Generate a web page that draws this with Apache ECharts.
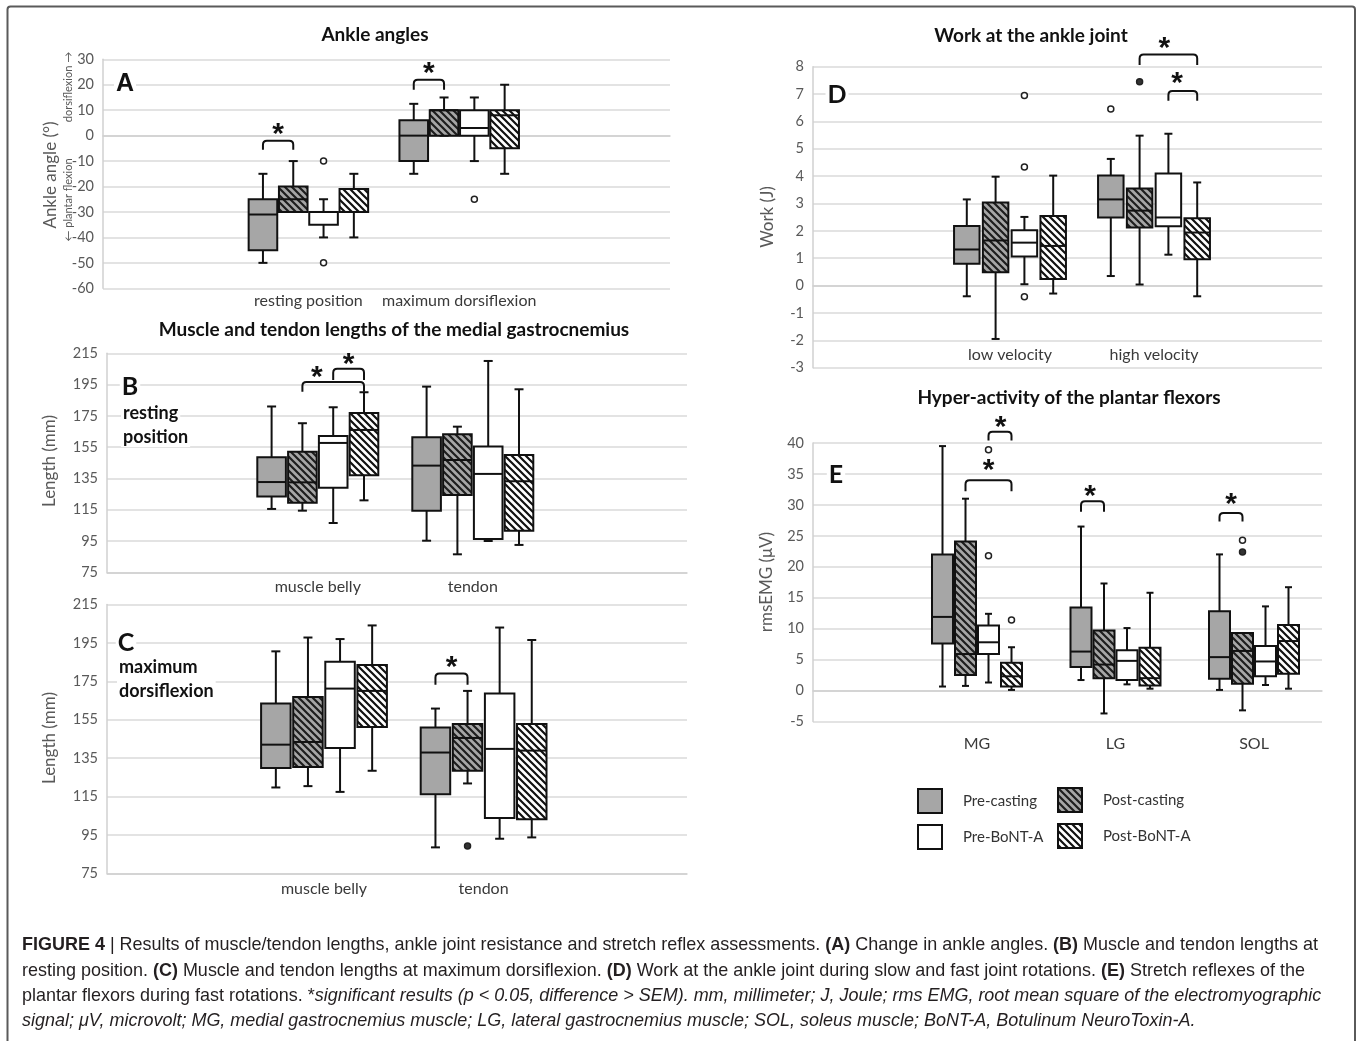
<!DOCTYPE html>
<html><head><meta charset="utf-8">
<script src="https://cdn.jsdelivr.net/npm/echarts@6/dist/echarts.min.js"></script>
<style>html,body{margin:0;padding:0;background:#fff}#c{width:1357px;height:1041px}</style>
</head><body><div id="c"></div>
<script>
// ===================== DATA =====================
const groups = ['Pre-casting', 'Post-casting', 'Pre-BoNT-A', 'Post-BoNT-A'];

// Boxes: one entry per category, [min, Q1, median, Q3, max]
// Panel A – Ankle angles (°)
const catsA = ['resting position', 'maximum dorsiflexion'];
const A_preCasting  = [[-50, -45, -31, -25, -15], [-15, -10, 0, 6, 12.5]];
const A_postCasting = [[-30, -30, -25, -20, -10], [0, 0, 10, 10, 15]];
const A_preBoNT     = [[-40, -35, -30, -30, -25], [-10, 0, 3, 10, 15]];
const A_postBoNT    = [[-40, -30, -30, -21, -15], [-15, -5, 8, 10, 20]];
// outliers: [category, group, value]
const A_outliersOpen   = [[0, 2, -10], [0, 2, -50], [1, 2, -25]];
const A_outliersFilled = [];
// significance: [category, fromGroup, toGroup, bracketTop, bracketFoot, starGroupPos, starValue]
const A_sig = [[0, 0, 1, -2, -5.5, 0.5, 3], [1, 0, 1, 22, 18, 0.5, 27]];

// Panel B – lengths at resting position (mm)
const catsB = ['muscle belly', 'tendon'];
const B_preCasting  = [[115.5, 123.4, 132.7, 148.5, 181], [95.2, 114.4, 143.2, 161.3, 193.7]];
const B_postCasting = [[114.4, 119.5, 132.5, 152.1, 170.3], [86.5, 124.4, 146.8, 163.2, 168.1]];
const B_preBoNT     = [[106.5, 129.1, 157.7, 162.2, 180.5], [95, 96.3, 137.9, 155.5, 210.1]];
const B_postBoNT    = [[121, 137, 166, 176.9, 190.1], [92.5, 101.6, 133.2, 150, 192]];
const B_outliersOpen   = [];
const B_outliersFilled = [];
const B_sig = [[0, 1, 3, 196.7, 190.5, 1.47, 204], [0, 2, 3, 205.2, 198, 2.5, 212]];

// Panel C – lengths at maximum dorsiflexion (mm)
const catsC = ['muscle belly', 'tendon'];
const C_preCasting  = [[119.7, 129.9, 142, 163.4, 190.6], [88.5, 116.2, 137.9, 150.9, 160.8]];
const C_postCasting = [[120.4, 130.4, 143.4, 166.8, 197.8], [121.8, 128.4, 145.5, 152.8, 170]];
const C_preBoNT     = [[117.4, 140.3, 171.2, 185.2, 197], [93, 103.8, 139.8, 168.7, 203]];
const C_postBoNT    = [[128.4, 151.2, 170, 183.5, 204.1], [93.7, 103.1, 138.9, 152.8, 196.5]];
const C_outliersOpen   = [];
const C_outliersFilled = [[1, 1, 89.2]];
const C_sig = [[1, 0, 1, 179, 173.2, 0.5, 185.5]];

// Panel D – Work at the ankle joint (J)
const catsD = ['low velocity', 'high velocity'];
const D_preCasting  = [[-0.39, 0.8, 1.32, 2.18, 3.15], [0.35, 2.49, 3.15, 4.02, 4.63]];
const D_postCasting = [[-1.95, 0.49, 1.65, 3.04, 3.98], [0.04, 2.12, 2.74, 3.55, 5.48]];
const D_preBoNT     = [[0.05, 1.06, 1.57, 2.02, 2.51], [1.13, 2.17, 2.49, 4.1, 5.55]];
const D_postBoNT    = [[-0.29, 0.24, 1.45, 2.54, 4.02], [-0.39, 0.96, 1.94, 2.46, 3.77]];
const D_outliersOpen   = [[0, 2, 6.95], [0, 2, 4.33], [0, 2, -0.41], [1, 0, 6.45]];
const D_outliersFilled = [[1, 1, 7.45]];
const D_sig = [[1, 1, 3, 8.45, 8.06, 1.86, 8.9], [1, 2, 3, 7.11, 6.76, 2.3, 7.65]];

// Panel E – rmsEMG (µV)
const catsE = ['MG', 'LG', 'SOL'];
const E_preCasting  = [[0.65, 7.6, 11.9, 22, 39.5], [1.7, 3.8, 6.3, 13.4, 26.5], [0.1, 1.9, 5.4, 12.8, 22]];
const E_postCasting = [[0.75, 2.5, 5.9, 24.1, 31], [-3.7, 2, 4.2, 9.7, 17.3], [-3.2, 1.1, 6.4, 9.3, 9.3]];
const E_preBoNT     = [[1.3, 5.9, 7.8, 10.5, 12.4], [1, 1.7, 4.8, 6.5, 10.1], [0.9, 2.3, 4.7, 7.2, 13.6]];
const E_postBoNT    = [[0.1, 0.65, 2.3, 4.5, 7], [0.3, 0.8, 2, 6.9, 15.8], [0.3, 2.7, 8, 10.6, 16.7]];
const E_outliersOpen   = [[0, 2, 21.8], [0, 2, 38.9], [0, 3, 11.4], [2, 1, 24.3]];
const E_outliersFilled = [[2, 1, 22.4]];
const E_sig = [[0, 2, 3, 41.8, 40.4, 2.53, 43.6], [0, 1, 3, 34, 32.2, 2, 36.6], [1, 0, 1, 30.6, 28.9, 0.4, 32.4], [2, 0, 1, 28.7, 27.3, 0.5, 31.2]];

// ===================== STYLE / LAYOUT =====================
const FONT = 'Lato, "Open Sans", sans-serif';
function hatch(bg, fg) {
  const n = 7, c = document.createElement('canvas');
  c.width = n; c.height = n;
  const g = c.getContext('2d');
  g.fillStyle = bg; g.fillRect(0, 0, n, n);
  g.strokeStyle = fg; g.lineWidth = 2.2; g.lineCap = 'square';
  g.beginPath();
  g.moveTo(-2, -2); g.lineTo(n + 2, n + 2);
  g.moveTo(-2, n - 2); g.lineTo(2, n + 2);
  g.moveTo(n - 2, -2); g.lineTo(n + 2, 2);
  g.stroke();
  return { image: c, repeat: 'repeat' };
}
const fills = ['#a6a6a6', hatch('#a6a6a6', '#1e1e1e'), '#ffffff', hatch('#ffffff', '#111111')];

const panels = [
  { cats: catsA, boxes: [A_preCasting, A_postCasting, A_preBoNT, A_postBoNT], open: A_outliersOpen, filled: A_outliersFilled, sig: A_sig,
    yMin: -60, yMax: 30, yInt: 10, frame: { left: 103, top: 59.3, width: 567, height: 229 }, data: { left: 233, width: 301.6 },
    step: 30.3, box: 28.6, cap: 9, labelMargin: 13 },
  { cats: catsB, boxes: [B_preCasting, B_postCasting, B_preBoNT, B_postBoNT], open: B_outliersOpen, filled: B_outliersFilled, sig: B_sig,
    yMin: 75, yMax: 215, yInt: 20, frame: { left: 107, top: 353.3, width: 580, height: 219 }, data: { left: 240.3, width: 310 },
    step: 30.8, box: 28.6, cap: 9, labelMargin: 15 },
  { cats: catsC, boxes: [C_preCasting, C_postCasting, C_preBoNT, C_postBoNT], open: C_outliersOpen, filled: C_outliersFilled, sig: C_sig,
    yMin: 75, yMax: 215, yInt: 20, frame: { left: 107, top: 604.5, width: 580, height: 268.8 }, data: { left: 244.2, width: 319.2 },
    step: 32.1, box: 29.5, cap: 9, labelMargin: 16 },
  { cats: catsD, boxes: [D_preCasting, D_postCasting, D_preBoNT, D_postBoNT], open: D_outliersOpen, filled: D_outliersFilled, sig: D_sig,
    yMin: -3, yMax: 8, yInt: 1, frame: { left: 813, top: 66.7, width: 509, height: 301 }, data: { left: 938, width: 288 },
    step: 28.8, box: 25.5, cap: 8, labelMargin: -13 },
  { cats: catsE, boxes: [E_preCasting, E_postCasting, E_preBoNT, E_postBoNT], open: E_outliersOpen, filled: E_outliersFilled, sig: E_sig,
    yMin: -5, yMax: 40, yInt: 5, frame: { left: 813, top: 443, width: 509, height: 278.5 }, data: { left: 907.75, width: 415.5 },
    step: 23, box: 21, cap: 7, labelMargin: 22 }
];

const grid = [], xAxis = [], yAxis = [], series = [];
const LINE = '#111';
panels.forEach((p, pi) => {
  const fi = 2 * pi, di = 2 * pi + 1;
  grid.push({ left: p.frame.left, top: p.frame.top, width: p.frame.width, height: p.frame.height, outerBoundsMode: 'none' });
  grid.push({ left: p.data.left, top: p.frame.top, width: p.data.width, height: p.frame.height, outerBoundsMode: 'none' });
  xAxis.push({ gridIndex: fi, type: 'value', min: 0, max: 1, axisLabel: { show: false }, axisTick: { show: false }, splitLine: { show: false },
    axisLine: { show: true, lineStyle: { color: '#d0d0d0', width: 1.5 } } });
  xAxis.push({ gridIndex: di, type: 'category', data: p.cats, boundaryGap: true, axisLine: { show: false }, axisTick: { show: false },
    splitLine: { show: false }, axisLabel: { color: '#3a3a3a', fontSize: 16, fontFamily: FONT, margin: p.labelMargin, verticalAlign: 'middle', interval: 0 } });
  yAxis.push({ gridIndex: fi, type: 'value', min: p.yMin, max: p.yMax, interval: p.yInt,
    axisLabel: { color: '#595959', fontSize: 14.5, fontFamily: FONT, margin: 9 }, axisTick: { show: false },
    axisLine: { show: true, lineStyle: { color: '#d0d0d0', width: 1.5 } },
    splitLine: { show: true, lineStyle: { color: '#dadada', width: 1.5 } } });
  yAxis.push({ gridIndex: di, type: 'value', min: p.yMin, max: p.yMax, show: false });

  series.push({ type: 'line', data: [], xAxisIndex: fi, yAxisIndex: fi, silent: true });

  p.boxes.forEach((arr, g) => {
    series.push({
      type: 'custom', name: groups[g], xAxisIndex: di, yAxisIndex: di, clip: false, silent: true, z: 3,
      data: arr.map((d, i) => [i].concat(d)),
      encode: { x: 0, y: [1, 2, 3, 4, 5] },
      renderItem: (params, api) => {
        const ci = api.value(0);
        const Y = k => api.coord([ci, api.value(k)])[1];
        const x = api.coord([ci, api.value(3)])[0] + (g - 1.5) * p.step;
        const yMin = Y(1), yQ1 = Y(2), yMed = Y(3), yQ3 = Y(4), yMax = Y(5);
        const hw = p.box / 2, cw = p.cap / 2;
        const ln = (x1, y1, x2, y2) => ({ type: 'line', shape: { x1, y1, x2, y2 }, style: { stroke: LINE, lineWidth: 2 } });
        return { type: 'group', children: [
          ln(x, yQ3, x, yMax), ln(x - cw, yMax, x + cw, yMax),
          ln(x, yQ1, x, yMin), ln(x - cw, yMin, x + cw, yMin),
          { type: 'rect', shape: { x: x - hw, y: yQ3, width: 2 * hw, height: yQ1 - yQ3 }, style: { fill: fills[g], stroke: LINE, lineWidth: 2 } },
          ln(x - hw, yMed, x + hw, yMed)
        ] };
      }
    });
  });

  const outl = p.open.map(o => o.concat([0])).concat(p.filled.map(o => o.concat([1])));
  series.push({
    type: 'custom', name: 'outliers', xAxisIndex: di, yAxisIndex: di, clip: false, silent: true, z: 4,
    data: outl, encode: { x: 0, y: 2 },
    renderItem: (params, api) => {
      const ci = api.value(0), g = api.value(1);
      const c = api.coord([ci, api.value(2)]);
      const filled = api.value(3) === 1;
      return { type: 'circle', shape: { cx: c[0] + (g - 1.5) * p.step, cy: c[1], r: 3 },
        style: { fill: filled ? '#333' : '#fff', stroke: '#222', lineWidth: 1.5 } };
    }
  });

  series.push({
    type: 'custom', name: 'significance', xAxisIndex: di, yAxisIndex: di, clip: false, silent: true, z: 5,
    data: p.sig, encode: { x: 0, y: 3 },
    renderItem: (params, api) => {
      const ci = api.value(0);
      const cx = api.coord([ci, 0])[0];
      const gx = g => cx + (g - 1.5) * p.step;
      const x1 = gx(api.value(1)), x2 = gx(api.value(2));
      const yT = api.coord([ci, api.value(3)])[1], yF = api.coord([ci, api.value(4)])[1];
      const sx = gx(api.value(5)), sy = api.coord([ci, api.value(6)])[1];
      const r = 4;
      const d = `M${x1} ${yF} L${x1} ${yT + r} Q${x1} ${yT} ${x1 + r} ${yT} L${x2 - r} ${yT} Q${x2} ${yT} ${x2} ${yT + r} L${x2} ${yF}`;
      return { type: 'group', children: [
        { type: 'path', shape: { pathData: d }, style: { fill: null, stroke: LINE, lineWidth: 2 } },
        { type: 'text', style: { text: '*', x: sx, y: sy + 7, fill: LINE, font: 'bold 30px "Liberation Sans", Arial, sans-serif', align: 'center', verticalAlign: 'middle' } }
      ] };
    }
  });
});

// ---------- caption ----------
const capLines = [
  [['FIGURE 4', 'b'], [' | ', 'n'], ['Results of muscle/tendon lengths, ankle joint resistance and stretch reflex assessments. ', 'n'], ['(A)', 'b'], [' Change in ankle angles. ', 'n'], ['(B)', 'b'], [' Muscle and tendon lengths at', 'n']],
  [['resting position. ', 'n'], ['(C)', 'b'], [' Muscle and tendon lengths at maximum dorsiflexion. ', 'n'], ['(D)', 'b'], [' Work at the ankle joint during slow and fast joint rotations. ', 'n'], ['(E)', 'b'], [' Stretch reflexes of the', 'n']],
  [['plantar flexors during fast rotations. ', 'n'], ['*', 'n'], ['significant results (p < 0.05, difference > SEM). mm, millimeter; J, Joule; rms EMG, root mean square of the electromyographic', 'i']],
  [['signal; μV, microvolt; MG, medial gastrocnemius muscle; LG, lateral gastrocnemius muscle; SOL, soleus muscle; BoNT-A, Botulinum NeuroToxin-A.', 'i']]
];
function hasFont(name) {
  const g = document.createElement('canvas').getContext('2d');
  const s = 'abcdefghijklmnopqrstuvwxyz ABCDEFGHIJ 0123456789';
  g.font = '40px monospace'; const w1 = g.measureText(s).width;
  g.font = `40px "${name}", monospace`; const w2 = g.measureText(s).width;
  return Math.abs(w1 - w2) > 0.5;
}
const capFam = hasFont('Liberation Sans Narrow') ? '"Liberation Sans Narrow"' : '"Liberation Sans"';
const CAP_SIZE = 19;
const capFont = k => (k === 'b' ? 'bold ' : k === 'i' ? 'italic ' : '') + CAP_SIZE + 'px ' + capFam;
const mctx = document.createElement('canvas').getContext('2d');
const lineW = line => line.reduce((s, seg) => { mctx.font = capFont(seg[1]); return s + mctx.measureText(seg[0]).width; }, 0);
const capScale = 1296 / lineW(capLines[0]);
const richDef = {
  n: { fontFamily: capFam, fontSize: CAP_SIZE, fill: '#231f20' },
  b: { fontFamily: capFam, fontSize: CAP_SIZE, fontWeight: 'bold', fill: '#231f20' },
  i: { fontFamily: capFam, fontSize: CAP_SIZE, fontStyle: 'italic', fill: '#231f20' }
};
const capGraphics = capLines.map((line, li) => ({
  type: 'text', x: 22, y: [945, 970.5, 996, 1021][li], scaleX: capScale,
  style: { text: line.map(s => `{${s[1]}|${s[0]}}`).join(''), rich: richDef, verticalAlign: 'middle', align: 'left' }
}));

const T = (text, x, y, o) => Object.assign({ type: 'text', x, y, z: 50, style: Object.assign({ text, align: 'center', verticalAlign: 'middle', fill: '#111', font: 'bold 19px ' + FONT }, (o && o.style) || {}) }, o && o.rot ? { rotation: o.rot } : {});
const axTitle = (text, x, y) => T(text, x, y, { rot: Math.PI / 2, style: { font: '17px ' + FONT, fill: '#595959' } });
const boxed = { backgroundColor: '#fff', padding: [1, 2] };
const panelLetter = (t, x, y, fam) => T(t, x, y, { style: Object.assign({ font: 'bold 25px ' + (fam || FONT) }, boxed) });
const panelNote = (t, x, y) => T(t, x, y, { style: Object.assign({ font: 'bold 18px ' + FONT, align: 'left' }, boxed) });

const graphic = [
  { type: 'rect', shape: { x: 7.5, y: 6.5, width: 1347.5, height: 1100, r: 3 }, style: { fill: null, stroke: '#5a5a5a', lineWidth: 2 }, z: -1 },
  T('Ankle angles', 375, 35),
  T('Muscle and tendon lengths of the medial gastrocnemius', 394, 330),
  T('Work at the ankle joint', 1031, 36),
  T('Hyper-activity of the plantar flexors', 1069, 398),
  panelLetter('A', 125, 84, '"Liberation Sans", Arial, sans-serif'),
  panelLetter('B', 130, 387),
  panelNote('resting', 121, 413),
  panelNote('position', 121, 437),
  panelLetter('C', 126, 643),
  panelNote('maximum', 117, 667),
  panelNote('dorsiflexion', 117, 691),
  panelLetter('D', 837, 95),
  panelLetter('E', 836, 475),
  axTitle('Ankle angle (°)', 51, 175),
  T('dorsiflexion →', 68, 87, { rot: Math.PI / 2, style: { font: '11px ' + FONT, fill: '#595959' } }),
  T('← plantar flexion', 68, 200, { rot: Math.PI / 2, style: { font: '11px ' + FONT, fill: '#595959' } }),
  axTitle('Length (mm)', 50, 461),
  axTitle('Length (mm)', 50, 738),
  axTitle('Work (J)', 768, 217),
  axTitle('rmsEMG (μV)', 767, 582)
].concat(capGraphics);

const legendText = { fontFamily: FONT, fontSize: 15, color: '#333', padding: [0, 0, 0, 16] };
const legIcon = g => ({ name: groups[g], icon: 'rect', itemStyle: { color: fills[g], borderColor: '#111', borderWidth: 2 } });

const chart = echarts.init(document.getElementById('c'), null, { renderer: 'canvas' });
chart.setOption({
  animation: false,
  backgroundColor: '#fff',
  grid, xAxis, yAxis, series, graphic,
  legend: [
    { orient: 'vertical', left: 917, top: 788, padding: 0, itemWidth: 24, itemHeight: 24, itemGap: 10, selectedMode: false, textStyle: legendText, data: [legIcon(0), legIcon(2)] },
    { orient: 'vertical', left: 1057, top: 787, padding: 0, itemWidth: 24, itemHeight: 24, itemGap: 10, selectedMode: false, textStyle: legendText, data: [legIcon(1), legIcon(3)] }
  ]
});
</script></body></html>
